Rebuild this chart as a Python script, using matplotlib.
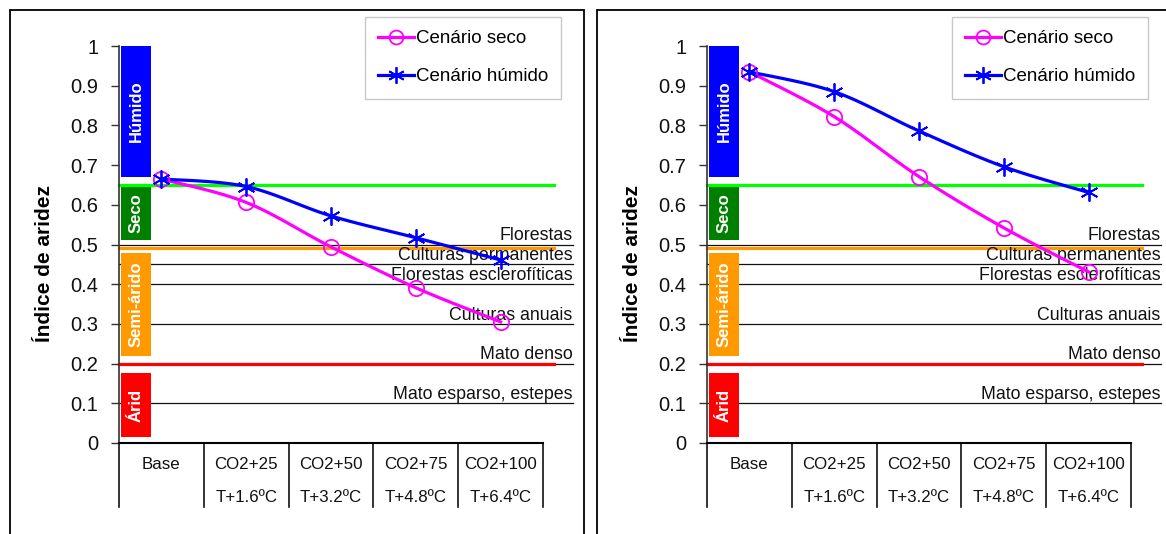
import numpy as np
import matplotlib
matplotlib.use("Agg")
import matplotlib.pyplot as plt
from matplotlib.patches import Rectangle
from matplotlib.lines import Line2D

plt.rcParams['font.family'] = ['Liberation Sans', 'DejaVu Sans']

# data
categorias = ["Base", "CO2+25", "CO2+50", "CO2+75", "CO2+100"]
temperaturas = ["", "T+1.6ºC", "T+3.2ºC", "T+4.8ºC", "T+6.4ºC"]

seco_esq = [0.665, 0.606, 0.494, 0.391, 0.305]
humido_esq = [0.665, 0.646, 0.572, 0.517, 0.461]
seco_dir = [0.935, 0.822, 0.671, 0.542, 0.431]
humido_dir = [0.935, 0.885, 0.786, 0.696, 0.631]

classes = ["Húmido", "Seco", "Semi-árido", "Árid"]
classes_inf = [0.67, 0.511, 0.219, 0.015]
classes_sup = [1.0, 0.645, 0.478, 0.176]
classes_cor = ["#0000FF", "#008000", "#FF9900", "#FF0000"]

limites = [0.65, 0.492, 0.199]
limites_cor = ["#00FF00", "#FF9900", "#FF0000"]

usos = ["Florestas", "Culturas permanentes", "Florestas esclerofíticas",
        "Culturas anuais", "Mato denso", "Mato esparso, estepes"]
usos_valor = [0.5, 0.45, 0.4, 0.3, 0.2, 0.1]

yticks = [0, 0.1, 0.2, 0.3, 0.4, 0.5, 0.6, 0.7, 0.8, 0.9, 1]
yticklabels = ["0", "0.1", "0.2", "0.3", "0.4", "0.5", "0.6", "0.7", "0.8", "0.9", "1"]

W, H = 1166, 534


def suave(x, y, n=30):
    # bezier smoothing like the spreadsheet "smoothed line"
    p = np.column_stack([x, y]).astype(float)
    p = np.vstack([p[0], p, p[-1]])
    out = []
    for i in range(1, len(p) - 2):
        p0, p1, p2, p3 = p[i - 1], p[i], p[i + 1], p[i + 2]
        c1 = p1 + (p2 - p0) / 6
        c2 = p2 - (p3 - p1) / 6
        t = np.linspace(0, 1, n)[:, None]
        seg = (1 - t)**3 * p1 + 3 * (1 - t)**2 * t * c1 + 3 * (1 - t) * t**2 * c2 + t**3 * p2
        out.append(seg if i == 1 else seg[1:])
    out = np.vstack(out)
    return out[:, 0], out[:, 1]


def painel(fig, x0, seco, humido, leg_x):
    ax = fig.add_axes([(x0) / W, 1 - 443 / H, 424 / W, 397 / H])
    ax.set_xlim(-0.5, 4.5)
    ax.set_ylim(0, 1)
    for s in ["top", "right"]:
        ax.spines[s].set_visible(False)
    ax.spines["left"].set_color("#333333")
    ax.spines["bottom"].set_color("black")
    ax.spines["bottom"].set_linewidth(1.5)
    ax.spines["left"].set_linewidth(1.2)
    ax.set_xticks([])
    ax.set_yticks(yticks)
    ax.set_yticklabels(yticklabels, fontsize=14.5, color="#111111")
    ax.tick_params(axis="y", direction="out", length=6, width=1, pad=9, color="#333333")

    xs = np.arange(len(categorias))

    # classification bars
    for nome, a, b, c in zip(classes, classes_inf, classes_sup, classes_cor):
        ax.add_patch(Rectangle((-0.476, a), 0.353, b - a, facecolor=c, edgecolor="none", zorder=2))
        ax.text(-0.3, (a + b) / 2, nome, rotation=90, color="white", fontweight="bold",
                fontsize=12, ha="center", va="center", zorder=3)

    # land use reference lines
    for nome, v in zip(usos, usos_valor):
        ax.plot([-0.5, 4.85], [v, v], color="#111111", lw=0.9, clip_on=False, zorder=1)
        ax.text(4.85, v + 0.011, nome, ha="right", va="baseline", fontsize=12.8,
                color="#111111", clip_on=False, zorder=4)

    # class limits
    for v, c in zip(limites, limites_cor):
        ax.plot([-0.5, 4.63], [v, v], color=c, lw=2.3, clip_on=False, zorder=2)

    # scenario curves
    sx, sy = suave(xs, seco)
    hx, hy = suave(xs, humido)
    ax.plot(sx, sy, color="#FF00FF", lw=2.3, zorder=5)
    ax.plot(xs, seco, ls="none", marker="o", ms=11, mfc="none", mec="#FF00FF", mew=1.3, zorder=6)
    ax.plot(hx, hy, color="#0000FF", lw=2.3, zorder=5)
    ax.plot(xs, humido, ls="none", marker=(6, 2, 0), ms=13, mec="#0000FF", mew=1.3, zorder=6)

    # category table below the axis
    for b in np.arange(-0.5, 5, 1.0):
        ax.plot([b, b], [0, -0.161], color="#111111", lw=1.2, clip_on=False)
    for i, (c, t) in enumerate(zip(categorias, temperaturas)):
        ax.text(i, -0.055, c, ha="center", va="center", fontsize=12.2, color="#111111")
        ax.text(i, -0.137, t, ha="center", va="center", fontsize=12.2, color="#111111")

    # axis title
    fig.text((x0 - 74) / W, 1 - 264 / H, "Índice de aridez", rotation=90, fontsize=15,
             fontweight="bold", ha="center", va="center")

    # legend
    h1 = Line2D([], [], color="#FF00FF", lw=2.3, marker="o", ms=10, mfc="none", mec="#FF00FF", mew=1.3)
    h2 = Line2D([], [], color="#0000FF", lw=2.3, marker=(6, 2, 0), ms=12, mec="#0000FF", mew=1.3)
    leg = ax.legend([h1, h2], ["Cenário seco", "Cenário húmido"], loc="upper left",
                    bbox_to_anchor=(leg_x / W, 1 - 17 / H), bbox_transform=fig.transFigure,
                    fontsize=13.5, frameon=True, fancybox=False, borderpad=0.7,
                    handlelength=1.9, handletextpad=0.1, labelspacing=1.12, borderaxespad=0)
    leg.get_frame().set_edgecolor("#BBBBBB")
    leg.get_frame().set_linewidth(1)
    return ax


fig = plt.figure(figsize=(W / 100, H / 100), dpi=100)

# outer frames
fig.patches.append(Rectangle((10 / W, -0.1), 574 / W, 1.1 - 10 / H, transform=fig.transFigure,
                             fill=False, edgecolor="black", lw=1.3))
fig.patches.append(Rectangle((597 / W, -0.1), 600 / W, 1.1 - 10 / H, transform=fig.transFigure,
                             fill=False, edgecolor="black", lw=1.3))

painel(fig, 119, seco_esq, humido_esq, 365)
painel(fig, 707, seco_dir, humido_dir, 952)

fig.savefig("out.png", dpi=100)
